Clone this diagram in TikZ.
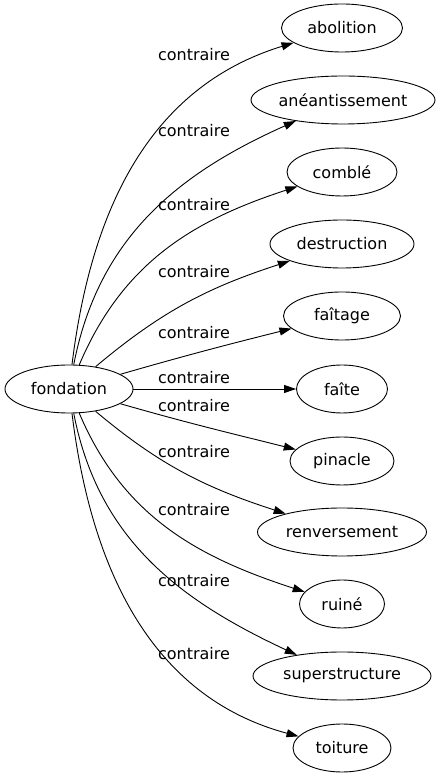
\documentclass[tikz,border=0pt]{standalone}
\usepackage{fontspec}
\setmainfont{DejaVu Sans}
\usetikzlibrary{shapes.geometric,arrows.meta}

\begin{document}
\begin{tikzpicture}[x=1pt, y=1pt,
		word/.style={ellipse, draw=black, line width=0.9pt, minimum height=48pt, inner sep=0pt},
		rel/.style={-{Triangle[length=12pt,width=8pt]}, line width=0.9pt},
		lbl/.style={inner sep=0pt},
		every node/.append style={font=\fontsize{16}{19}\selectfont}]
		\useasboundingbox (0,0) rectangle (442,779);
		
		% Source word
		\node[word, minimum width=128pt] (fondation) at (69, 390) {fondation};
		
		% Opposites
		\node[word, minimum width=121pt] (abolition) at (342, 751) {abolition};
		\node[word, minimum width=184pt] (aneantissement) at (343, 679) {anéantissement};
		\node[word, minimum width=110pt] (comble) at (342, 607) {comblé};
		\node[word, minimum width=144pt] (destruction) at (342, 535) {destruction};
		\node[word, minimum width=117pt] (faitage) at (342, 463) {faîtage};
		\node[word, minimum width=91pt] (faite) at (342, 390) {faîte};
		\node[word, minimum width=104pt] (pinacle) at (342, 318) {pinacle};
		\node[word, minimum width=169pt] (renversement) at (342, 247) {renversement};
		\node[word, minimum width=85pt] (ruine) at (342, 175) {ruiné};
		\node[word, minimum width=178pt] (superstructure) at (342, 103) {superstructure};
		\node[word, minimum width=98pt] (toiture) at (342, 31) {toiture};
		
		% Edge labels
		\node[lbl] (l1) at (194, 724) {contraire};
		\node[lbl] (l2) at (194, 648) {contraire};
		\node[lbl] (l3) at (194, 574) {contraire};
		\node[lbl] (l4) at (194, 507) {contraire};
		\node[lbl] (l5) at (194, 446) {contraire};
		\node[lbl] (l6) at (194, 401) {contraire};
		\node[lbl] (l7) at (194, 373) {contraire};
		\node[lbl] (l8) at (194, 327) {contraire};
		\node[lbl] (l9) at (194, 269) {contraire};
		\node[lbl] (l10) at (194, 198) {contraire};
		\node[lbl] (l11) at (194, 125) {contraire};
		
		% Connect
		\draw[rel] (fondation) to[out=83, in=197] (abolition);
		\draw[rel] (fondation) to[out=79, in=204] (aneantissement);
		\draw[rel] (fondation) to[out=67, in=198] (comble);
		\draw[rel] (fondation) to[out=40, in=198] (destruction);
		\draw[rel] (fondation) to[out=16, in=194] (faitage);
		\draw[rel] (fondation) -- (faite);
		\draw[rel] (fondation) to[out=-16, in=166] (pinacle);
		\draw[rel] (fondation) to[out=-40, in=162] (renversement);
		\draw[rel] (fondation) to[out=-67, in=162] (ruine);
		\draw[rel] (fondation) to[out=-79, in=155] (superstructure);
		\draw[rel] (fondation) to[out=-83, in=165] (toiture);
		
	\end{tikzpicture}
\end{document}
